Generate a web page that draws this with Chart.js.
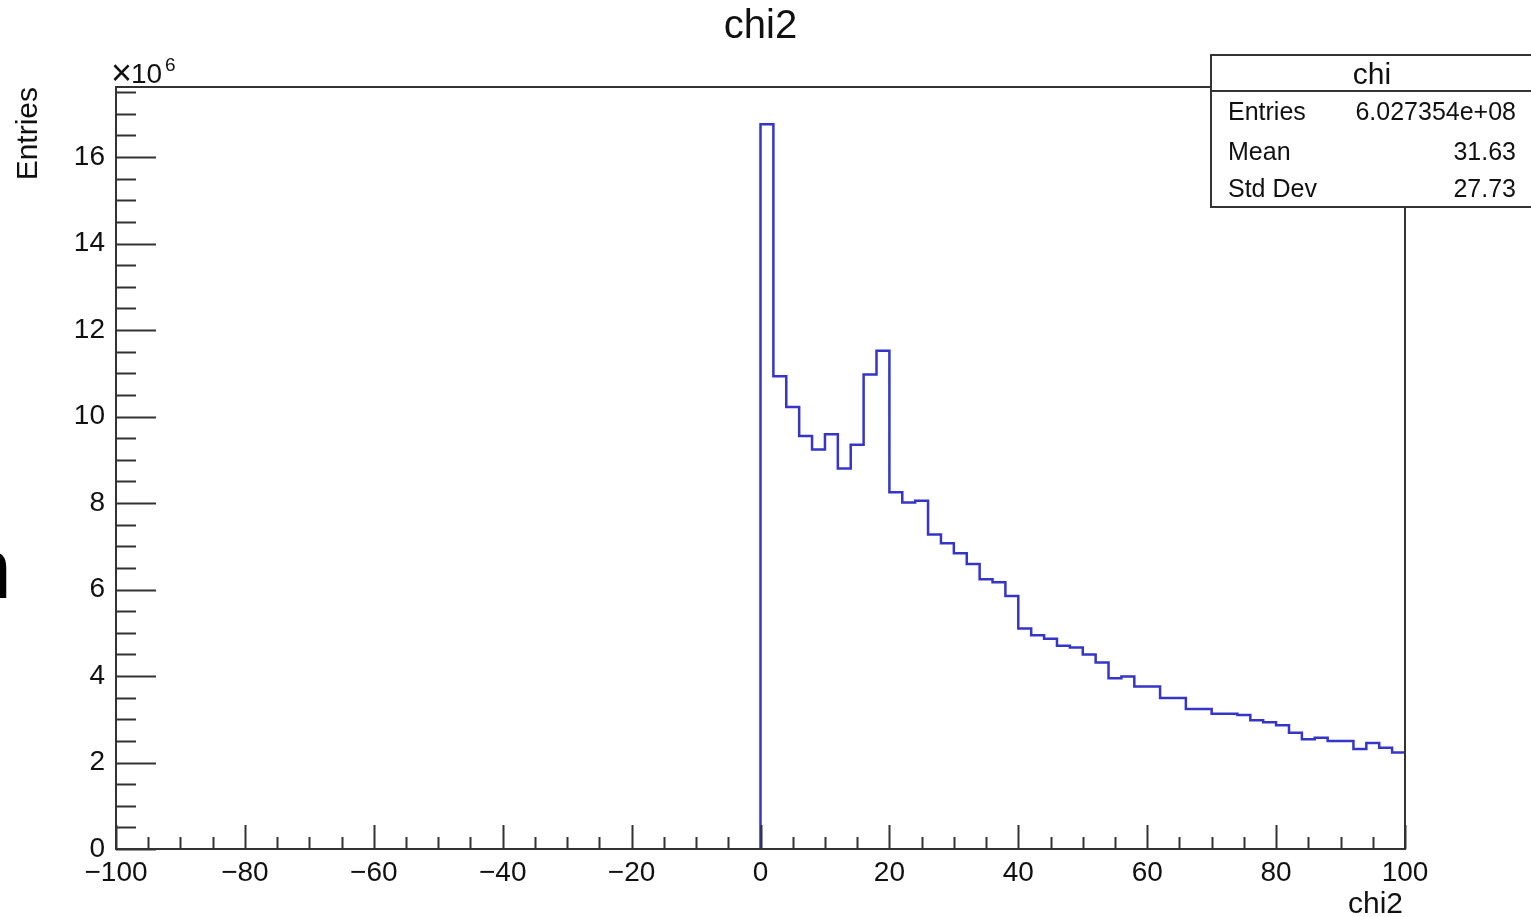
<!DOCTYPE html>
<html>
<head>
<meta charset="utf-8">
<script src="https://cdn.jsdelivr.net/npm/chart.js@4/dist/chart.umd.min.js"></script>
<style>
  html, body { margin: 0; padding: 0; background: #fff; overflow: hidden; }
  canvas { display: block; }
</style>
</head>
<body>
<canvas id="histo" width="1531" height="917"></canvas>
<script>
// chi2 histogram, bins of width 2, contents in units of 1e6
const binWidth = 2;
const firstBinLow = 0;
const binContents = [
  16.76, 10.93, 10.22, 9.55, 9.24, 9.59, 8.80, 9.35, 10.97, 11.52,
  8.25, 8.01, 8.05, 7.27, 7.07, 6.84, 6.59, 6.24, 6.17, 5.85,
  5.10, 4.94, 4.86, 4.70, 4.66, 4.50, 4.31, 3.95, 3.99, 3.76,
  3.76, 3.49, 3.49, 3.24, 3.24, 3.13, 3.13, 3.10, 2.98, 2.93,
  2.86, 2.69, 2.54, 2.57, 2.50, 2.50, 2.31, 2.45, 2.34, 2.23
];
const xTicks = [-100, -80, -60, -40, -20, 0, 20, 40, 60, 80, 100];
const yTicks = [0, 2, 4, 6, 8, 10, 12, 14, 16];
const statLabels = ['Entries', 'Mean', 'Std Dev'];
const statValues = ['6.027354e+08', '31.63', '27.73'];

const FONT = '"Liberation Sans", Arial, Helvetica, sans-serif';
const AXIS = '#333';

// outline points for a stepped line (horizontal first, then vertical)
const pts = [{ x: firstBinLow, y: 0 }];
binContents.forEach((v, i) => {
  const lo = firstBinLow + i * binWidth;
  pts.push({ x: lo, y: v });
  pts.push({ x: lo + binWidth, y: v });
});

const rootDecor = {
  id: 'rootDecor',
  afterDraw(chart) {
    const { ctx, chartArea: a, scales } = chart;
    const xs = scales.x, ys = scales.y;
    ctx.save();
    ctx.strokeStyle = AXIS;
    ctx.lineWidth = 2;
    ctx.strokeRect(a.left, a.top, a.right - a.left, a.bottom - a.top);

    ctx.beginPath();
    for (let v = ys.min; v <= ys.max + 1e-9; v += 0.5) {
      const y = Math.round(ys.getPixelForValue(v)) + 0.5;
      const len = Math.abs(v % 2) < 1e-6 ? 40 : 20;
      ctx.moveTo(a.left, y);
      ctx.lineTo(a.left + len, y);
    }
    for (let v = xs.min; v <= xs.max + 1e-9; v += 5) {
      const x = Math.round(xs.getPixelForValue(v)) + 0.5;
      const len = Math.abs(v % 20) < 1e-6 ? 24 : 12;
      ctx.moveTo(x, a.bottom);
      ctx.lineTo(x, a.bottom - len);
    }
    ctx.stroke();

    ctx.fillStyle = '#111';
    // title
    ctx.font = '40px ' + FONT;
    ctx.textAlign = 'center';
    ctx.textBaseline = 'alphabetic';
    ctx.fillText('chi2', (a.left + a.right) / 2, 38);

    // exponent
    ctx.textAlign = 'left';
    ctx.font = '36px ' + FONT;
    ctx.fillText('\u00d7', 111, 85);
    ctx.font = '28px ' + FONT;
    ctx.fillText('10', 131, 83);
    ctx.font = '19px ' + FONT;
    ctx.fillText('6', 165, 71);

    // axis titles
    ctx.font = '30px ' + FONT;
    ctx.textAlign = 'right';
    ctx.fillText('chi2', a.right - 2, 913);
    ctx.save();
    ctx.translate(37, a.top);
    ctx.rotate(-Math.PI / 2);
    ctx.textAlign = 'right';
    ctx.fillText('Entries', 0, 0);
    ctx.restore();

    // stats box
    const bx = 1211, by = 55, bw = 340, bh = 152;
    ctx.fillStyle = '#fff';
    ctx.fillRect(bx, by, bw, bh);
    ctx.strokeStyle = AXIS;
    ctx.strokeRect(bx, by, bw, bh);
    ctx.beginPath();
    ctx.moveTo(bx, 91);
    ctx.lineTo(bx + bw, 91);
    ctx.stroke();
    ctx.fillStyle = '#111';
    ctx.font = '30px ' + FONT;
    ctx.textAlign = 'center';
    ctx.fillText('chi', 1372, 84);
    ctx.font = '25px ' + FONT;
    const rowY = [120, 160, 197];
    statLabels.forEach((s, i) => {
      ctx.textAlign = 'left';
      ctx.fillText(s, 1228, rowY[i]);
      ctx.textAlign = 'right';
      ctx.fillText(statValues[i], 1516, rowY[i]);
    });

    // stray glyph at the left edge of the screenshot
    ctx.fillStyle = '#000';
    ctx.textAlign = 'left';
    ctx.font = '86px ' + FONT;
    ctx.fillText('n', -36, 598);
    ctx.restore();
  }
};

new Chart(document.getElementById('histo'), {
  type: 'line',
  data: {
    datasets: [{
      data: pts,
      borderColor: '#3535c8',
      borderWidth: 2.5,
      pointRadius: 0,
      fill: false,
      tension: 0
    }]
  },
  options: {
    responsive: false,
    devicePixelRatio: 1,
    animation: false,
    events: [],
    layout: { padding: { left: 0, top: 87, right: 126, bottom: 0 } },
    plugins: { legend: { display: false }, title: { display: false }, tooltip: { enabled: false } },
    scales: {
      x: {
        type: 'linear',
        min: -100,
        max: 100,
        grid: { display: false, drawTicks: false },
        border: { display: false },
        afterBuildTicks: s => { s.ticks = xTicks.map(v => ({ value: v })); },
        afterFit: s => { s.height = 68; },
        ticks: {
          padding: 7,
          maxRotation: 0,
          autoSkip: false,
          color: '#111',
          font: { family: FONT, size: 28 },
          callback: v => String(v).replace('-', '\u2212')
        }
      },
      y: {
        type: 'linear',
        min: 0,
        max: 17.62,
        grid: { display: false, drawTicks: false },
        border: { display: false },
        afterBuildTicks: s => { s.ticks = yTicks.map(v => ({ value: v })); },
        afterFit: s => { s.width = 116; },
        ticks: {
          padding: 11,
          color: '#111',
          font: { family: FONT, size: 28 },
          callback: v => String(v)
        }
      }
    }
  },
  plugins: [rootDecor]
});
</script>
</body>
</html>
